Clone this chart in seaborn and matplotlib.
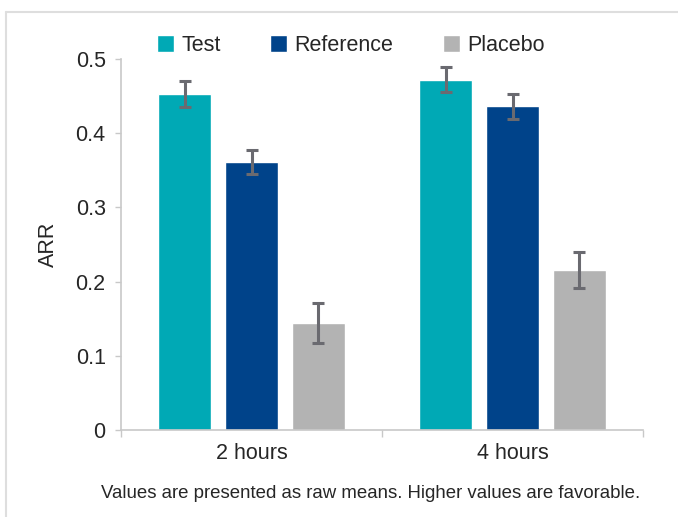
import pandas as pd
import numpy as np
import matplotlib.pyplot as plt
import seaborn as sns
from matplotlib.lines import Line2D

# values
timepoints = ['2 hours', '4 hours']
treatments = ['Test', 'Reference', 'Placebo']
arr_2h = [0.453, 0.361, 0.144]
arr_4h = [0.472, 0.436, 0.216]
err_2h = [0.018, 0.016, 0.027]
err_4h = [0.017, 0.017, 0.024]
colors = ['#00a9b5', '#00438a', '#b3b3b3']

df = pd.DataFrame({
    'TIME': ['2 hours'] * 3 + ['4 hours'] * 3,
    'TREATMENT': treatments * 2,
    'ARR': arr_2h + arr_4h,
    'ERR': err_2h + err_4h,
})

sns.set_style('white')
plt.rcParams['font.family'] = ['Liberation Sans', 'DejaVu Sans']

fig = plt.figure(figsize=(6.78, 5.17), dpi=100)
ax = fig.add_axes([121 / 678, 87 / 517, 522 / 678, 371 / 517])

sns.barplot(data=df, x='TIME', y='ARR', hue='TREATMENT', order=timepoints,
            hue_order=treatments, palette=colors, width=0.77, gap=0.22,
            errorbar=None, saturation=1, ax=ax)

# error bars on top of each bar
for cont, tr in zip(ax.containers, treatments):
    sub = df[df['TREATMENT'] == tr].set_index('TIME').loc[timepoints]
    xs = [b.get_x() + b.get_width() / 2 for b in cont]
    ax.errorbar(xs, sub['ARR'], yerr=sub['ERR'], fmt='none', ecolor='#6a6a70',
                elinewidth=2.2, capsize=4.2, capthick=2.2, zorder=5)

ax.set_ylim(0, 0.5)
ax.set_xlim(-0.5, 1.5)
ax.set_yticks([0, 0.1, 0.2, 0.3, 0.4, 0.5])
ax.set_yticklabels(['0', '0.1', '0.2', '0.3', '0.4', '0.5'])
ax.set_xlabel('')
ax.set_ylabel('ARR', fontsize=15.5, labelpad=12)

for s in ['top', 'right']:
    ax.spines[s].set_visible(False)
for s in ['left', 'bottom']:
    ax.spines[s].set_color('#c8c8c8')
    ax.spines[s].set_linewidth(1.2)

ax.tick_params(axis='y', left=True, length=4, width=1, color='#c8c8c8',
               labelsize=15.5, pad=7)
ax.tick_params(axis='x', which='major', bottom=False, labelsize=15.5, pad=6)
ax.set_xticks([-0.5, 0.5, 1.5], minor=True)
ax.tick_params(axis='x', which='minor', bottom=True, length=5, width=1,
               color='#c8c8c8')

leg = ax.legend(loc='upper left', bbox_to_anchor=(36 / 522, 1.065), ncol=3,
                frameon=False, fontsize=15.5, handlelength=0.8,
                handleheight=0.8, handletextpad=0.33, columnspacing=2.3,
                borderpad=0, borderaxespad=0)
leg.set_title(None)

fig.text(0.547, 1 - 493 / 517, 'Values are presented as raw means. Higher values are favorable.',
         ha='center', va='center', fontsize=13.4)

# light frame around the chart area
fig.add_artist(Line2D([6 / 678, 1], [1 - 12 / 517, 1 - 12 / 517],
                      color='#dedede', lw=1.5, transform=fig.transFigure))
fig.add_artist(Line2D([6 / 678, 6 / 678], [0, 1 - 12 / 517],
                      color='#dedede', lw=1.5, transform=fig.transFigure))

fig.savefig('out.png', dpi=100)
